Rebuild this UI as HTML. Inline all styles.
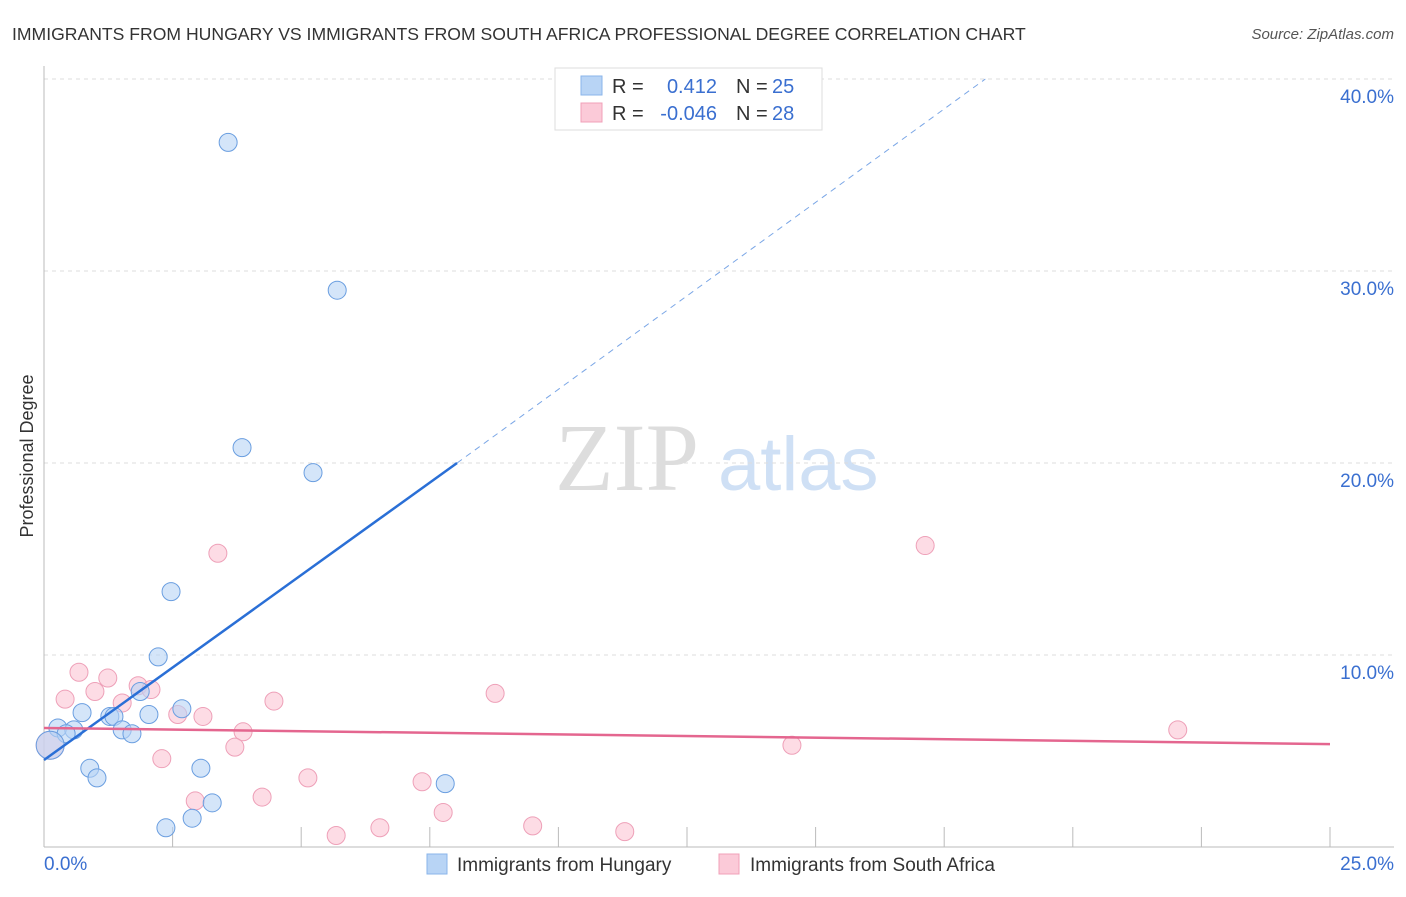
<!DOCTYPE html>
<html><head><meta charset="utf-8"><style>
body{margin:0;background:#fff;font-family:"Liberation Sans",sans-serif}
</style></head><body>
<svg id="c" width="1406" height="892" xmlns="http://www.w3.org/2000/svg">
<text x="12" y="40" font-size="17.6" fill="#333">IMMIGRANTS FROM HUNGARY VS IMMIGRANTS FROM SOUTH AFRICA PROFESSIONAL DEGREE CORRELATION CHART</text>
<text x="1394" y="39" font-size="15" fill="#555" font-style="italic" text-anchor="end">Source: ZipAtlas.com</text>
<text x="33" y="456" font-size="18" fill="#333" text-anchor="middle" transform="rotate(-90 33 456)">Professional Degree</text>
<g><text x="555" y="490" font-size="96" fill="#ddd" font-family="Liberation Serif,serif">ZIP</text><text x="718" y="490" font-size="76" fill="#cfe0f5">atlas</text></g>
<g id="grid"></g><g id="pts"></g><g id="lines"></g>
<g>
<rect x="555" y="68" width="267" height="62" fill="#fff" stroke="#ddd"/>
<rect x="581" y="76" width="21" height="19" fill="#b8d4f5" stroke="#8ab4ea"/>
<rect x="581" y="103" width="21" height="19" fill="#fbcad8" stroke="#f0a0b8"/>
<text x="612" y="93" font-size="20" fill="#333">R =</text><text x="717" y="93" font-size="20" fill="#3a6fd0" text-anchor="end">0.412</text>
<text x="736" y="93" font-size="20" fill="#333">N =</text><text x="772" y="93" font-size="20" fill="#3a6fd0">25</text>
<text x="612" y="120" font-size="20" fill="#333">R =</text><text x="717" y="120" font-size="20" fill="#3a6fd0" text-anchor="end">-0.046</text>
<text x="736" y="120" font-size="20" fill="#333">N =</text><text x="772" y="120" font-size="20" fill="#3a6fd0">28</text>
</g>
<g>
<rect x="427" y="854" width="20" height="20" fill="#b8d4f5" stroke="#8ab4ea"/><text x="457" y="871" font-size="19" fill="#333">Immigrants from Hungary</text>
<rect x="719" y="854" width="20" height="20" fill="#fbcad8" stroke="#f0a0b8"/><text x="750" y="871" font-size="19" fill="#333">Immigrants from South Africa</text>
</g>
<text x="44" y="870" font-size="19" fill="#3a6fd0">0.0%</text>
<text x="1394" y="870" font-size="19" fill="#3a6fd0" text-anchor="end">25.0%</text>
</svg>
<script>
const yTicks=[10,20,30,40];
const yTickLabels=["10.0%","20.0%","30.0%","40.0%"];
const hungaryX=[3.58,5.7,3.85,5.23,2.47,2.22,1.87,2.68,2.04,0.74,1.28,1.36,0.27,0.58,0.43,1.52,1.71,0.89,1.03,3.05,3.27,2.88,2.37,7.8,0.12];
const hungaryY=[36.7,29.0,20.8,19.5,13.3,9.9,8.1,7.2,6.9,7.0,6.8,6.8,6.2,6.1,5.9,6.1,5.9,4.1,3.6,4.1,2.3,1.5,1.0,3.3,5.3];
const safricaX=[3.38,17.13,0.68,1.24,0.41,0.99,1.83,2.08,1.52,2.6,3.09,4.47,8.77,3.87,3.71,2.29,22.04,14.54,5.13,7.35,2.94,4.24,7.76,5.68,6.53,9.5,11.29,0.12];
const safricaY=[15.3,15.7,9.1,8.8,7.7,8.1,8.4,8.2,7.5,6.9,6.8,7.6,8.0,6.0,5.2,4.6,6.1,5.3,3.6,3.4,2.4,2.6,1.8,0.6,1.0,1.1,0.8,5.3];
const hungaryLine=[0,4.53,8.03,20.0];
const hungaryDash=[8.03,20.0,18.3,40.0];
const safricaLine=[0,6.2,25,5.36];
const X=v=>44+v*51.44, Y=v=>847-v*19.2;
const NS="http://www.w3.org/2000/svg";
function mk(t,a,p){const e=document.createElementNS(NS,t);for(const k in a)e.setAttribute(k,a[k]);p.appendChild(e);return e;}
const g=document.getElementById('grid');
yTicks.forEach((t,i)=>{const l=mk('line',{x1:44,x2:1394,y1:Y(t),y2:Y(t),stroke:'#ddd','stroke-dasharray':'4,4'},g);


const tx=mk('text',{x:1394,y:Y(t)+24,'font-size':19,fill:'#3a6fd0','text-anchor':'end'},g);tx.textContent=yTickLabels[i];

});
mk('line',{x1:44,x2:44,y1:66,y2:847,stroke:'#bbb'},g);
mk('line',{x1:44,x2:1394,y1:847,y2:847,stroke:'#bbb'},g);
for(let i=1;i<=10;i++){const t=mk('line',{x1:X(i*2.5),x2:X(i*2.5),y1:827,y2:847,stroke:'#bbb'},g);

}
const p=document.getElementById('pts');
function pts(xs,ys,fill,stroke,name){xs.forEach((x,i)=>{const r=(i==xs.length-1)?14:9;const c=mk('circle',{cx:X(x),cy:Y(ys[i]),r:r,fill:fill,stroke:stroke,'fill-opacity':0.6,'stroke-width':1},p);

});}
pts(safricaX,safricaY,'#fbc4d4','#eea0b8','south-africa-point');
pts(hungaryX,hungaryY,'#b8d4f5','#6a9ee0','hungary-point');
const L=document.getElementById('lines');
let a=mk('line',{x1:X(hungaryLine[0]),y1:Y(hungaryLine[1]),x2:X(hungaryLine[2]),y2:Y(hungaryLine[3]),stroke:'#2a6fd6','stroke-width':2.5},L);


let b=mk('line',{x1:X(hungaryDash[0]),y1:Y(hungaryDash[1]),x2:X(hungaryDash[2]),y2:Y(hungaryDash[3]),stroke:'#7aa6e6','stroke-width':1,'stroke-dasharray':'6,5'},L);


let s=mk('line',{x1:X(safricaLine[0]),y1:Y(safricaLine[1]),x2:X(safricaLine[2]),y2:Y(safricaLine[3]),stroke:'#e4668f','stroke-width':2.5},L);


</script>
</body></html>
